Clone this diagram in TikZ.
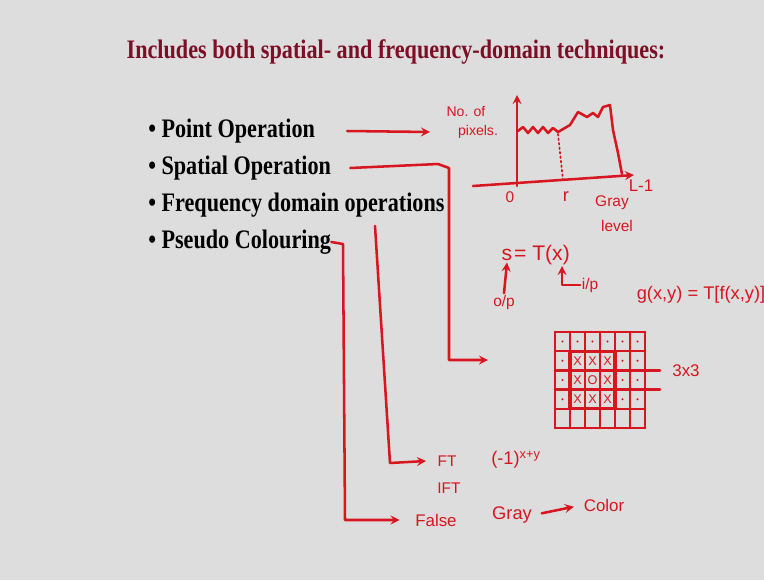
\documentclass[tikz,border=0pt]{standalone}
\usepackage{fontspec}
\setmainfont{Liberation Serif}
\newfontfamily\slidefont[FakeStretch=0.83]{Liberation Serif}
\newfontfamily\handfont{Liberation Sans}
\definecolor{slidebg}{RGB}{221,221,221}
\definecolor{titlered}{RGB}{125,14,38}
\definecolor{inkred}{RGB}{215,22,32}
\tikzset{
  title/.style={titlered,inner sep=0pt,font=\slidefont\fontsize{19}{22}\selectfont\bfseries},
  bullet/.style={anchor=west,inner sep=0pt,font=\slidefont\fontsize{19}{22}\selectfont\bfseries},
  ink/.style={inkred,inner sep=1pt,font=\handfont\fontsize{10}{11}\selectfont},
  pen/.style={draw=inkred,line width=1.8pt,line cap=round,line join=round},
}
\begin{document}
\begin{tikzpicture}[x=0.025cm,y=-0.025cm]
  % draw slide background
  \fill[slidebg] (0,0) rectangle (764,580);
  \useasboundingbox (0,0) rectangle (764,580);
  % draw title
  \node at(396,52)[title](title){Includes both spatial- and frequency-domain techniques:};
  % draw bullet list
  \node at(148,131)[bullet](point){\textbullet\ Point Operation};
  \node at(148,168)[bullet](spatial){\textbullet\ Spatial Operation};
  \node at(148,205)[bullet](freq){\textbullet\ Frequency domain operations};
  \node at(148,242)[bullet](pseudo){\textbullet\ Pseudo Colouring};
  % draw histogram labels
  \node at(466,111)[ink](nolabel){No. of};
  \node at(478,132)[ink](pixlabel){pixels.};
  \node at(510,197)[ink,font=\handfont\fontsize{11}{12}\selectfont](zero){0};
  \node at(566,197)[ink,font=\handfont\fontsize{13}{14}\selectfont](rlevel){r};
  \node at(641,186)[ink,font=\handfont\fontsize{12}{13}\selectfont](lmax){L-1};
  \node at(612,203)[ink,font=\handfont\fontsize{11}{12}\selectfont](gray){Gray};
  \node at(617,226)[ink,font=\handfont\fontsize{11}{12}\selectfont](level){level};
  % draw histogram axes
  \draw [pen,-stealth](517,186) -- (517,95);
  \draw [pen,-stealth](473,186) -- (634,175);
  % draw histogram curve
  \draw [pen](518,131) -- (523,127) -- (528,133) -- (533,127) -- (538,133) -- (543,127)
    -- (548,133) -- (553,128) -- (558,132) -- (570,125) -- (578,112) -- (587,117)
    -- (593,113) -- (598,117) -- (603,107) -- (610,105) -- (613,130) -- (618,153) -- (622,174);
  \draw [pen,line width=1.2pt,dotted](558,134) -- (563,180);
  % draw arrow from point operation to histogram
  \coordinate (histin) at (430,132);
  \draw [pen,-stealth](point.east) ++(32,0) -- (histin);
  % draw transformation s = T(x)
  \node at(507,255)[ink,font=\handfont\fontsize{15}{17}\selectfont](sout){s};
  \node at(542,255)[ink,font=\handfont\fontsize{15}{17}\selectfont](tx){= T(x)};
  \node at(504,302)[ink,font=\handfont\fontsize{11}{12}\selectfont](op){o/p};
  \node at(590,285)[ink,font=\handfont\fontsize{11}{12}\selectfont](ip){i/p};
  \coordinate (xin) at (562,266);
  \draw [pen,-stealth](op.north) -- (sout.south);
  \draw [pen,-stealth](ip.west) -| (xin);
  % draw neighbourhood formula
  \node at(701,295)[ink,font=\handfont\fontsize{13}{15}\selectfont](gxy){g(x,y) = T[f(x,y)]};
  % draw pixel grid
  \foreach \c in {0,...,6}
    \draw [pen](555+15*\c,332) -- (555+15*\c,428);
  \foreach \r in {0,...,5}
    \draw [pen](555,332+19.2*\r) -- (645,332+19.2*\r);
  \draw [pen](645,370.4) -- (660,370.4);
  \draw [pen](645,389.6) -- (660,389.6);
  \draw [pen,line width=2.4pt](570,351.2) rectangle (615,408.8);
  % draw grid cells
  \foreach \c in {0,...,5}
    \fill [inkred](562.5+15*\c,341.6) circle (0.8pt);
  \foreach \r in {1,2,3}{
    \fill [inkred](562.5,341.6+19.2*\r) circle (0.8pt);
    \fill [inkred](622.5,341.6+19.2*\r) circle (0.8pt);
    \fill [inkred](637.5,341.6+19.2*\r) circle (0.8pt);
  }
  \foreach \r/\c in {1/1,1/2,1/3,2/1,2/3,3/1,3/2,3/3}
    \node at(562.5+15*\c,341.6+19.2*\r)[ink,inner sep=0pt,font=\handfont\fontsize{9}{10}\selectfont](cell-\r-\c){X};
  \node at(592.5,380)[ink,inner sep=0pt,font=\handfont\fontsize{9}{10}\selectfont](centre){O};
  \node at(686,371)[ink,font=\handfont\fontsize{12}{13}\selectfont](size){3x3};
  % draw arrow from spatial operation to grid
  \coordinate (gridin) at (488,360);
  \draw [pen,-stealth](spatial.east) ++(19,0) -- (438,164) -- (449,168) |- (gridin);
  % draw frequency domain labels
  \node at(447,461)[ink,font=\handfont\fontsize{11}{12}\selectfont](ft){FT};
  \node at(449,488)[ink,font=\handfont\fontsize{11}{12}\selectfont](ift){IFT};
  \node at(516,460)[ink,font=\handfont\fontsize{13}{14}\selectfont](sign){(-1)\textsuperscript{x+y}};
  % draw arrow from frequency domain to FT
  \coordinate (freqdrop) at (375,226);
  \draw [pen,-stealth](freqdrop) -- (390,463) -- ([xshift=-7pt]ft.west);
  % draw pseudo colouring labels
  \node at(436,520)[ink,font=\handfont\fontsize{12}{13}\selectfont](false){False};
  \node at(512,515)[ink,font=\handfont\fontsize{13}{14}\selectfont](graylab){Gray};
  \node at(604,505)[ink,font=\handfont\fontsize{12}{13}\selectfont](color){Color};
  \draw [pen,-stealth,shorten <=6pt,shorten >=6pt](graylab.east) -- (color.west);
  % draw arrow from pseudo colouring to false
  \draw [pen,-stealth](pseudo.east) -- (343,244) -- (345,520) -- ([xshift=-10pt]false.west);
\end{tikzpicture}
\end{document}
